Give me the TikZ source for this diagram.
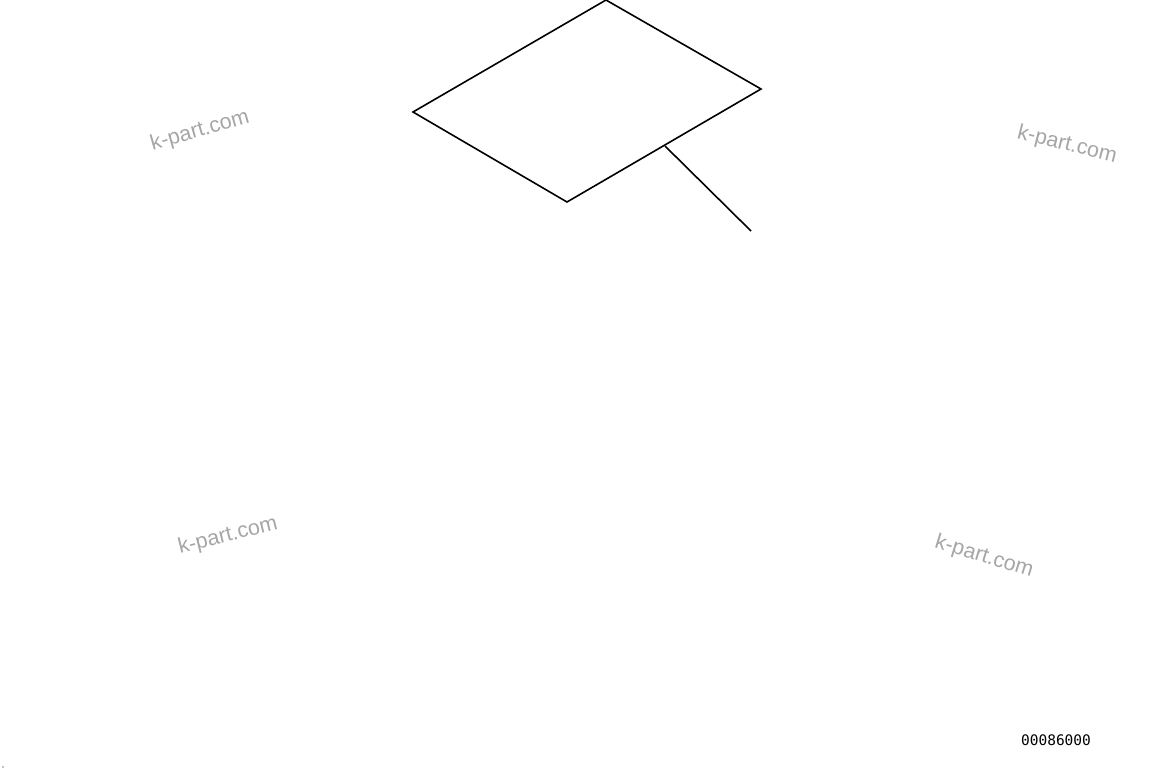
\documentclass[tikz,border=0pt]{standalone}
\usepackage{fontspec}
\setmainfont{Liberation Sans}
\newfontfamily\monofont{DejaVu Sans Mono}
\begin{document}
\begin{tikzpicture}[x=1pt,y=-1pt,
  outline/.style={draw=black,line width=1.6pt,line join=miter},
  wmark/.style={text=black!35,font=\fontsize{21.5}{24}\selectfont,inner sep=0pt},
  partno/.style={font=\monofont\fontsize{14.5}{16}\selectfont,inner sep=0pt}]
\useasboundingbox[fill=white] (0,0) rectangle (1163,777);
\coordinate (t) at (606,0);
\coordinate (r) at (761,89);
\coordinate (b) at (567,202);
\coordinate (l) at (413,112);
\draw[outline] (t) -- (r) -- (b) -- (l) -- cycle;
\coordinate (lstart) at (665,146);
\coordinate (lend) at (751,231);
\draw[line width=1.6pt] (lstart) -- (lend);
\node[wmark,rotate=16] (w1) at (200,131) {k-part.com};
\node[wmark,rotate=-14] (w2) at (1067,145) {k-part.com};
\node[wmark,rotate=14] (w3) at (228,536) {k-part.com};
\node[wmark,rotate=-17] (w4) at (984,557) {k-part.com};
\node[partno] (pn) at (1056,740) {00086000};
\fill (3,767) circle (0.7);
\end{tikzpicture}
\end{document}
